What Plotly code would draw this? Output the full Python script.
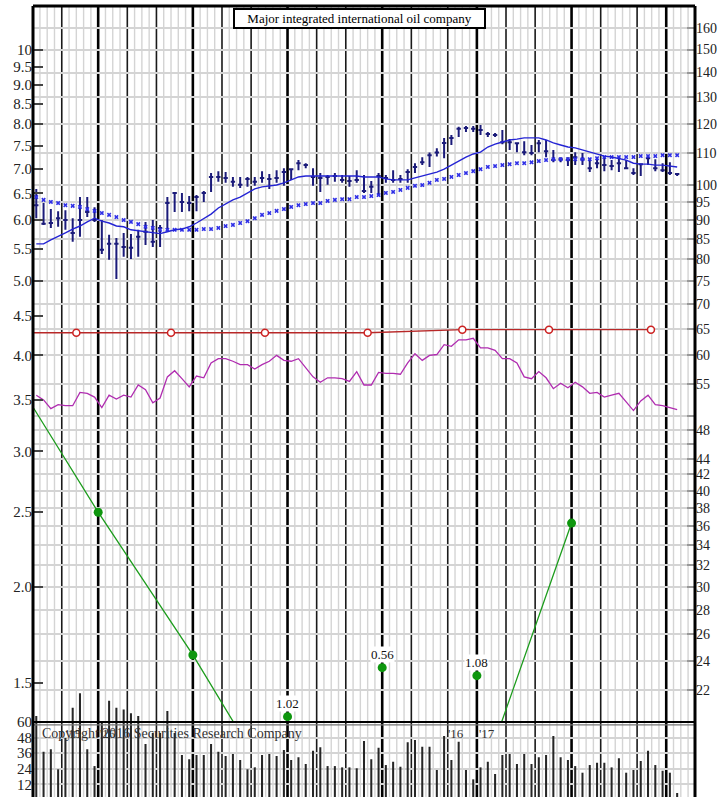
import math
import plotly.graph_objects as go

# ---- data (weekly bars, week 0 = first bar) ----
weeks = list(range(89))

price_high = [98.8, 94.7, 93.0, 92.4, 92.7, 90.5, 96.4, 96.4, 93.5, 90.0,
              86.1, 85.3, 86.6, 86.3, 87.4, 89.5, 90.0, 88.7, 96.4, 97.9,
              97.6, 96.7, 97.0, 98.2, 103.6, 104.2, 103.9, 102.4, 102.4, 102.4,
              102.4, 104.2, 103.3, 104.5, 105.1, 105.1, 107.7, 106.7, 105.1, 103.6,
              103.0, 103.6, 103.0, 102.7, 104.5, 103.0, 101.2, 103.6, 103.0, 104.5,
              103.0, 104.8, 106.7, 108.6, 110.2, 111.6, 115.1, 116.1, 119.0, 119.3,
              119.3, 119.6, 117.2, 116.8, 117.9, 114.7, 113.6, 114.0, 112.7, 114.4,
              114.4, 111.0, 108.6, 108.6, 110.3, 110.0, 108.0, 108.6, 108.6, 107.7,
              108.6, 107.7, 105.1, 106.7, 109.3, 108.0, 106.7, 107.0, 103.6]
price_low = [90.5, 88.7, 87.9, 88.2, 87.4, 84.3, 85.6, 90.8, 89.5, 81.3,
             79.9, 75.4, 80.6, 80.1, 80.6, 83.5, 83.0, 83.0, 87.4, 92.2,
             92.2, 92.4, 92.4, 95.0, 97.9, 100.9, 100.6, 99.4, 99.1, 99.4,
             99.7, 100.6, 98.8, 100.6, 99.7, 101.5, 104.5, 105.1, 99.7, 97.9,
             100.0, 100.9, 100.6, 99.4, 100.6, 97.6, 97.6, 97.0, 100.6, 100.6,
             100.6, 100.6, 103.6, 106.1, 105.5, 108.9, 108.3, 112.7, 115.4, 117.2,
             117.2, 116.1, 115.4, 115.4, 112.9, 111.0, 110.3, 109.3, 109.3, 110.3,
             108.6, 107.0, 107.0, 105.8, 106.1, 106.1, 103.9, 105.1, 104.2, 104.5,
             103.9, 104.8, 103.0, 102.7, 106.1, 104.2, 103.9, 103.0, 102.7]
price_close = [94.1, 89.0, 89.2, 90.5, 90.0, 86.6, 90.0, 92.2, 90.0, 82.3,
               83.8, 83.8, 83.0, 82.8, 85.6, 86.9, 84.3, 87.9, 94.7, 97.6,
               95.0, 94.7, 96.4, 97.6, 102.4, 102.4, 102.1, 100.9, 100.0, 101.8,
               100.9, 102.1, 101.8, 102.1, 103.9, 104.8, 106.7, 106.1, 102.4, 102.1,
               102.4, 102.7, 101.5, 101.2, 101.5, 98.2, 99.4, 102.7, 102.1, 101.5,
               101.8, 103.9, 105.5, 107.0, 109.3, 110.2, 113.4, 115.1, 118.3, 118.6,
               118.3, 117.9, 116.5, 116.1, 113.6, 113.6, 113.3, 110.3, 110.0, 113.3,
               110.6, 107.7, 108.0, 107.7, 108.6, 108.0, 105.1, 106.7, 106.1, 105.8,
               106.7, 105.1, 103.6, 106.4, 108.3, 105.1, 104.5, 103.6, 103.3]

# 13-week average (solid line) and 40-week average (x marks)
ma_short = [83.8, 83.8, 84.8, 85.6, 86.6, 87.6, 88.4, 89.5, 90.5, 89.7,
            89.2, 88.4, 88.2, 87.4, 87.1, 86.9, 86.6, 86.4, 86.9, 87.4,
            87.6, 88.2, 89.2, 90.5, 91.6, 93.3, 94.4, 95.6, 96.4, 97.6,
            98.8, 99.4, 99.7, 99.95, 100.6, 101.5, 102.4, 102.7, 102.7, 102.7,
            102.7, 102.7, 102.7, 102.7, 102.7, 102.4, 102.4, 102.4, 101.8, 101.5,
            101.5, 101.5, 102.1, 102.7, 103.3, 103.9, 104.8, 106.1, 107.4, 108.7,
            109.7, 110.3, 112.0, 113.0, 113.7, 114.4, 114.7, 115.1, 115.1, 115.1,
            114.4, 113.4, 112.7, 112.0, 111.7, 111.0, 110.3, 109.7, 109.0, 108.7,
            108.3, 107.7, 106.7, 106.4, 106.4, 106.1, 106.1, 105.8, 105.5]
ma_long = [96.4, 95.6, 95.0, 94.7, 94.1, 93.9, 93.6, 93.0, 92.5, 91.9,
           91.4, 90.8, 90.0, 89.5, 88.9, 88.2, 87.9, 87.4, 87.4, 87.4,
           87.4, 87.4, 87.4, 87.6, 87.6, 87.9, 88.4, 88.7, 89.2, 89.7,
           90.5, 91.4, 91.9, 92.5, 93.0, 93.6, 94.1, 94.4, 94.7, 94.7,
           95.3, 95.6, 95.8, 95.8, 96.4, 96.4, 96.7, 97.0, 97.6, 97.9,
           98.5, 99.1, 99.7, 99.95, 100.6, 101.5, 101.8, 102.4, 103.0, 103.6,
           104.2, 104.8, 105.5, 105.8, 106.1, 106.4, 106.7, 106.7, 107.0, 107.4,
           107.7, 108.0, 108.0, 108.0, 108.0, 108.0, 108.0, 108.3, 108.7, 108.7,
           108.7, 108.7, 108.7, 109.0, 109.0, 109.0, 109.3, 109.3, 109.3]

# relative strength line (plotted on the left ratio scale)
rel_strength = [3.55, 3.50, 3.41, 3.45, 3.44, 3.44, 3.58, 3.57, 3.53, 3.42,
                3.55, 3.51, 3.55, 3.53, 3.66, 3.61, 3.47, 3.52, 3.75, 3.82,
                3.73, 3.64, 3.76, 3.74, 3.91, 3.96, 3.96, 3.93, 3.89, 3.89,
                3.84, 3.89, 3.93, 4.00, 3.94, 3.93, 3.96, 3.86, 3.75, 3.69,
                3.74, 3.74, 3.73, 3.70, 3.81, 3.66, 3.66, 3.80, 3.79, 3.79,
                3.78, 3.91, 4.02, 3.94, 4.00, 4.01, 4.13, 4.11, 4.19, 4.19,
                4.21, 4.09, 4.09, 4.06, 3.96, 3.96, 3.91, 3.75, 3.73, 3.81,
                3.74, 3.62, 3.68, 3.63, 3.69, 3.64, 3.57, 3.58, 3.53, 3.55,
                3.57, 3.48, 3.39, 3.49, 3.55, 3.45, 3.44, 3.42, 3.40]

# weekly volume, millions of shares
volume = [64.6, 37.1, 39.0, 23.6, 47.7, 71.0, 82.1, 39.0, 26.1, 60.2,
          76.4, 71.0, 69.7, 66.7, 64.6, 43.1, 51.5, 51.5, 68.4, 51.5,
          34.6, 31.3, 34.6, 34.6, 43.1, 37.1, 33.8, 35.4, 30.8, 23.6,
          25.1, 34.6, 35.4, 33.8, 38.5, 30.8, 32.8, 27.7, 37.9, 40.5,
          26.1, 26.1, 25.1, 25.1, 24.4, 45.4, 31.3, 40.2, 26.9, 29.5,
          25.6, 44.4, 46.1, 41.0, 41.0, 23.1, 49.2, 30.8, 44.8, 23.1,
          15.9, 25.1, 29.5, 20.0, 34.6, 35.4, 27.7, 35.4, 27.7, 32.8,
          34.6, 49.2, 32.8, 30.8, 26.1, 21.0, 26.9, 28.7, 28.7, 25.1,
          32.1, 21.0, 23.1, 30.0, 37.9, 26.9, 22.5, 21.0, 5.4]

# 12-month earnings (green) and dividends (red), left scale
eps_weeks = [-4.5, 8.5, 21.5, 34.5, 47.5, 60.5, 73.5]
eps_values = [3.95, 2.50, 1.63, 1.02, 0.56, 1.08, 2.42]
# off-scale earnings shown as labelled dots near the bottom
eps_label_weeks = [34.5, 47.5, 60.5]
eps_label_text = ['1.02', '0.56', '1.08']
eps_label_pos = [1.355, 1.569, 1.532]

div_weeks = [-8.5, 5.5, 18.5, 31.4, 45.5, 58.5, 70.4, 84.4]
div_values = [4.28, 4.28, 4.28, 4.28, 4.28, 4.32, 4.32, 4.32]

# axes
PE_RATIO = 15
price_floor, price_ceiling = 20, 170.9
left_ticks = [1.5, 2.0, 2.5, 3.0, 3.5, 4.0, 4.5, 5.0, 5.5, 6.0, 6.5, 7.0,
              7.5, 8.0, 8.5, 9.0, 9.5, 10]
left_labels = ['1.5', '2.0', '2.5', '3.0', '3.5', '4.0', '4.5', '5.0', '5.5',
               '6.0', '6.5', '7.0', '7.5', '8.0', '8.5', '9.0', '9.5', '10']
right_ticks = [22, 24, 26, 28, 30, 32, 34, 36, 38, 40, 42, 44, 46, 48, 50, 55,
               60, 65, 70, 75, 80, 85, 90, 95, 100, 110, 120, 130, 140, 150, 160]
right_labels = ['' if v in (46, 50) else str(v) for v in right_ticks]
vol_ticks = [12, 24, 36, 48, 60]
vol_left_labels = ['12', '24', '36', '48', '60']
vol_right_labels = ['12', '24', '36', '48', '60M']
vol_range = [2.31, 99.66]

month_lines = [3.5, 12.5, 16.5, 25.5, 29.5, 38.5, 42.5, 51.5, 56.5, 64.5, 68.5, 77.5, 82.5]
quarter_lines = [8.5, 21.5, 34.5, 47.5, 60.5, 73.5, 86.5]
week_lines = [w + 0.5 for w in range(90) if (w + 0.5) not in month_lines + quarter_lines]

year_marks = [(5.1, "'15"), (9.9, "'16"), (57.7, "'16"), (61.9, "'17")]

NAVY = '#1b1b7a'
GRID = '#d4d4d4'
FONT = 'Liberation Serif'

fig = go.Figure()

# left scale lines
fig.add_trace(go.Scatter(x=div_weeks, y=div_values, mode='lines+markers',
                         line=dict(color='#b82828', width=1.4),
                         marker=dict(symbol='circle', size=7, color='white',
                                     line=dict(color='#cc2222', width=1.5))))
fig.add_trace(go.Scatter(x=weeks, y=rel_strength, mode='lines',
                         line=dict(color='#b02cb0', width=1.3)))
fig.add_trace(go.Scatter(x=eps_weeks, y=eps_values, mode='lines+markers',
                         line=dict(color='#1c9c1c', width=1.3),
                         marker=dict(size=9, color='#0e960e')))
fig.add_trace(go.Scatter(x=eps_label_weeks, y=eps_label_pos, mode='markers',
                         marker=dict(size=9, color='#0e960e'), cliponaxis=False))

# price on right scale
fig.add_trace(go.Scatter(x=weeks, y=ma_long, yaxis='y3', mode='markers',
                         marker=dict(symbol='x', size=4, color='#2f2fe6')))
fig.add_trace(go.Scatter(x=weeks, y=ma_short, yaxis='y3', mode='lines',
                         line=dict(color='#2424d4', width=1.4)))
fig.add_trace(go.Ohlc(x=weeks, open=price_close, high=price_high, low=price_low,
                      close=price_close, yaxis='y3', tickwidth=0.3,
                      increasing_line_color=NAVY, decreasing_line_color=NAVY,
                      line_width=2))

# volume
fig.add_trace(go.Bar(x=weeks, y=volume, yaxis='y2', width=0.28,
                     marker=dict(color='#262626', line=dict(width=0))))

fig.update_traces(hoverinfo='skip', showlegend=False)

shapes = []
for yref, y1 in (('y domain', 1), ('y2', 60)):
    for x in week_lines:
        shapes.append(dict(type='line', layer='below', xref='x', yref=yref,
                           x0=x, x1=x, y0=0, y1=y1, line=dict(color=GRID, width=1.4)))
    for x in month_lines:
        shapes.append(dict(type='line', layer='below', xref='x', yref=yref,
                           x0=x, x1=x, y0=0, y1=y1, line=dict(color='#1a1a1a', width=1.6)))
    for x in quarter_lines:
        shapes.append(dict(type='line', layer='below', xref='x', yref=yref,
                           x0=x, x1=x, y0=0, y1=y1, line=dict(color='black', width=2.6)))

# panel separator and frame
shapes.append(dict(type='line', xref='paper', yref='y2', x0=0, x1=1, y0=57.8, y1=57.8,
                   line=dict(color='#777', width=1.2), layer='above'))
shapes.append(dict(type='line', xref='paper', yref='y2', x0=0, x1=1, y0=60, y1=60,
                   line=dict(color='black', width=2), layer='above'))
for x0, x1, y0, y1 in ((0, 0, 0, 1), (1, 1, 0, 1), (0, 1, 1, 1)):
    shapes.append(dict(type='line', xref='paper', yref='paper', x0=x0, x1=x1, y0=y0, y1=y1,
                       line=dict(color='black', width=3), layer='above'))

annotations = [
    dict(text='Major integrated international oil company', xref='paper', yref='paper',
         x=0.493, y=1, xanchor='center', yanchor='top', yshift=-2, showarrow=False,
         font=dict(size=13, color='black'), bordercolor='black', borderwidth=2,
         borderpad=1, bgcolor='white', width=247),
    dict(text='Copyright 2016 Securities Research Company', xref='paper', yref='paper',
         x=0.0106, y=0.0809, xanchor='left', yanchor='middle', showarrow=False,
         font=dict(size=14, color='#333')),
]
for wx, label in year_marks:
    annotations.append(dict(text=label, xref='x', yref='paper', x=wx, y=0.0683,
                            showarrow=False, font=dict(size=13, color='#333')))
# earnings labels sit on a white patch above their dots (log axis -> log10 position)
for wx, pos, label in zip(eps_label_weeks, eps_label_pos, eps_label_text):
    annotations.append(dict(text=label, xref='x', yref='y', x=wx, y=math.log10(pos),
                            yshift=13, showarrow=False, bgcolor='white', borderpad=0,
                            font=dict(size=13, color='#111')))

fig.update_layout(
    width=724, height=797,
    margin=dict(l=33, r=29, t=6, b=0, autoexpand=False),
    paper_bgcolor='white', plot_bgcolor='rgba(0,0,0,0)',
    font=dict(family=FONT, color='#222', size=14),
    showlegend=False, hovermode=False,
    shapes=shapes, annotations=annotations,
    xaxis=dict(range=[-0.45, 90.45], showgrid=False, zeroline=False, showline=False,
               showticklabels=False, ticks='', anchor='y', automargin=False,
               rangeslider=dict(visible=False)),
    yaxis=dict(type='log', domain=[0.0948, 1], automargin=False,
               range=[math.log10(price_floor / PE_RATIO), math.log10(price_ceiling / PE_RATIO)],
               tickvals=left_ticks, ticktext=left_labels, ticks='inside', ticklen=10,
               tickwidth=1.5, tickcolor='#444', showgrid=False, zeroline=False,
               showline=False, tickfont=dict(size=15, color='#222')),
    yaxis3=dict(type='log', overlaying='y', side='right', anchor='x', automargin=False,
                range=[math.log10(price_floor), math.log10(price_ceiling)],
                tickvals=right_ticks, ticktext=right_labels, ticks='inside', ticklen=8,
                tickwidth=1.5, tickcolor='#999', showgrid=True, gridcolor=GRID,
                gridwidth=1.5, zeroline=False, showline=False,
                tickfont=dict(size=14, color='#222')),
    yaxis2=dict(domain=[0, 0.16], anchor='x', range=vol_range, tickvals=vol_ticks,
                ticktext=vol_left_labels, ticks='', showgrid=True, gridcolor=GRID,
                gridwidth=1.5, zeroline=False, showline=False, automargin=False,
                tickfont=dict(size=15, color='#222')),
    yaxis4=dict(overlaying='y2', side='right', anchor='x', range=vol_range,
                tickvals=vol_ticks, ticktext=vol_right_labels, ticks='inside', ticklen=8,
                tickwidth=1.5, tickcolor='#999', showgrid=False, zeroline=False,
                showline=False, automargin=False, tickfont=dict(size=14, color='#222')),
)

# the page body has a default 8px margin; drop it so the chart sits at the window corner
fig.write_html('out.html', config={'displayModeBar': False},
               post_script="document.body.style.margin='0px';")
